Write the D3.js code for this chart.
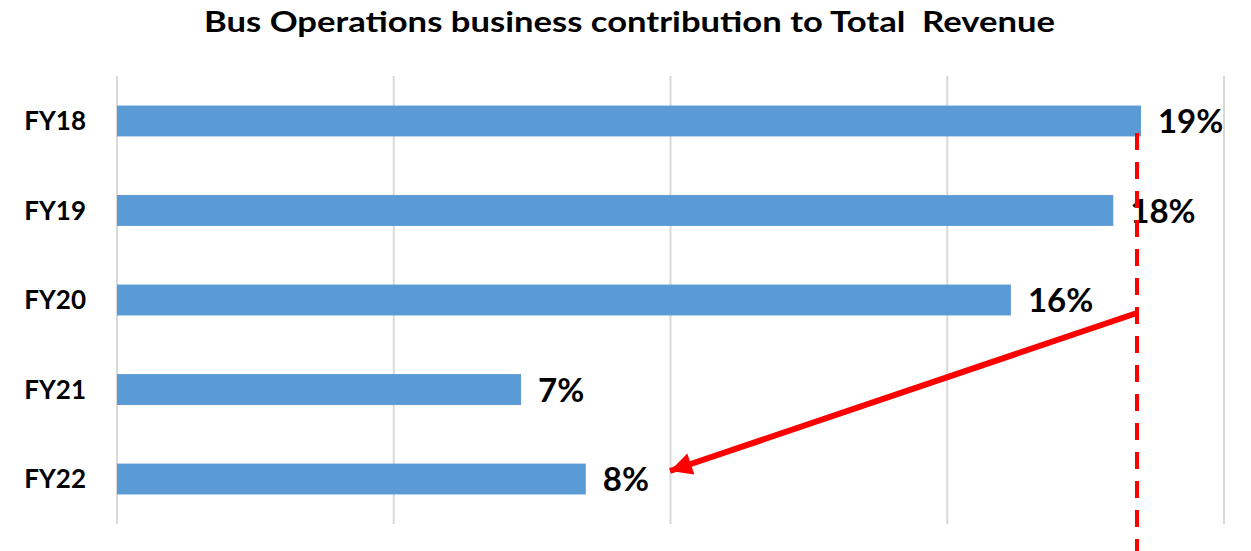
<!DOCTYPE html>
<html>
<head>
<meta charset="utf-8">
<script src="https://cdn.jsdelivr.net/npm/d3@7"></script>
<style>
    body { margin: 0; background: #fff; }
    svg text { font-family: Lato, "Open Sans", sans-serif; font-weight: bold; fill: #000; }
</style>
</head>
<body>
<svg id="chart" width="1251" height="551"></svg>
<script>
//  values (percent of total revenue)
const categories = ["FY18", "FY19", "FY20", "FY21", "FY22"];
const shares = [18.5, 18.0, 16.15, 7.3, 8.47];
const valueLabels = ["19%", "18%", "16%", "7%", "8%"];
const gridTicks = [0, 5, 10, 15, 20];

const title = "Bus Operations business contribution to Total  Revenue";

const svg = d3.select("#chart");

const plot = { left: 117, right: 1224, top: 76, bottom: 524 };

const x = d3.scaleLinear()
    .domain([0, 20])
    .range([plot.left, plot.right]);

const y = d3.scaleBand()
    .domain(categories)
    .range([plot.top, plot.bottom])
    .paddingInner(0.655)
    .paddingOuter(0.33);

svg.append("text")
    .attr("x", 204)
    .attr("y", 32)
    .attr("textLength", 851)
    .attr("lengthAdjust", "spacingAndGlyphs")
    .style("white-space", "pre")
    .style("font-size", "28px")
    .text(title);

//  vertical gridlines
svg.append("g")
    .selectAll("line")
    .data(gridTicks)
    .join("line")
    .attr("x1", d => x(d))
    .attr("x2", d => x(d))
    .attr("y1", plot.top)
    .attr("y2", plot.bottom)
    .attr("stroke", "#d9d9d9")
    .attr("stroke-width", 2);

svg.append("g")
    .selectAll("rect")
    .data(shares)
    .join("rect")
    .attr("x", x(0))
    .attr("y", (d, i) => y(categories[i]))
    .attr("width", d => x(d) - x(0))
    .attr("height", y.bandwidth())
    .attr("fill", "#5b9bd5");

svg.append("g")
    .selectAll("text")
    .data(categories)
    .join("text")
    .attr("x", 86)
    .attr("y", d => y(d) + y.bandwidth() / 2)
    .attr("dy", "0.36em")
    .attr("text-anchor", "end")
    .style("font-size", "26px")
    .text(d => d);

svg.append("g")
    .selectAll("text")
    .data(shares)
    .join("text")
    .attr("x", d => x(d) + 17)
    .attr("y", (d, i) => y(categories[i]) + y.bandwidth() / 2)
    .attr("dy", "0.37em")
    .style("font-size", "33px")
    .text((d, i) => valueLabels[i]);

//  red annotation: dashed marker at FY18 level and arrow down to FY22
const markX = 1137;
svg.append("line")
    .attr("x1", markX)
    .attr("x2", markX)
    .attr("y1", 133)
    .attr("y2", 551)
    .attr("stroke", "#ff0000")
    .attr("stroke-width", 4)
    .attr("stroke-dasharray", "17,12");

svg.append("defs")
    .append("marker")
    .attr("id", "head")
    .attr("viewBox", "0 0 10 10")
    .attr("refX", 10)
    .attr("refY", 5)
    .attr("markerUnits", "userSpaceOnUse")
    .attr("markerWidth", 26)
    .attr("markerHeight", 22)
    .attr("orient", "auto")
    .append("path")
    .attr("d", "M0,0 L10,5 L0,10 Z")
    .attr("fill", "#ff0000");

const fy22 = y("FY22") + y.bandwidth() / 2;
svg.append("line")
    .attr("x1", markX)
    .attr("y1", 313)
    .attr("x2", 670)
    .attr("y2", fy22 - 8)
    .attr("stroke", "#ff0000")
    .attr("stroke-width", 6)
    .attr("marker-end", "url(#head)");
</script>
</body>
</html>
